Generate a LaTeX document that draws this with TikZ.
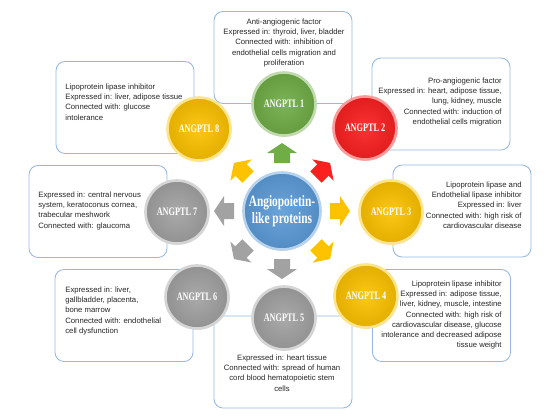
\documentclass[tikz,border=0pt]{standalone}
\usepackage{fontspec}
\setmainfont{Liberation Sans}
\newfontfamily\ballfont[FakeStretch=0.72]{Liberation Serif}
\usetikzlibrary{shadows}
\definecolor{grnball}{RGB}{112,173,71}
\definecolor{redball}{RGB}{250,32,32}
\definecolor{ylwball}{RGB}{252,194,0}
\definecolor{gryball}{RGB}{162,162,162}
\definecolor{bluball}{RGB}{92,156,216}
\definecolor{boxline}{RGB}{150,185,225}
\newcommand{\infofont}{\fontsize{4.4pt}{5.7pt}\selectfont}
\newcommand{\angp}[1]{ANGPTL #1}

\begin{document}
\begin{tikzpicture}[x=0.02cm, y=-0.02cm,
		infobox/.style={draw=boxline, fill=white, line width=0.5pt, rounded corners=0.18cm, minimum width=2.76cm, minimum height=1.84cm, inner sep=0pt},
		infotext/.style={font=\infofont, text=black!85, inner sep=0pt},
		ballnode/.style={circle, inner sep=0pt, minimum size=1.26cm, draw=#1!45!white, line width=1.5pt, inner color=#1!92!white, outer color=#1!90!black, text=white, font=\ballfont\fontsize{6.5pt}{7pt}\selectfont\bfseries, drop shadow={opacity=0.25, shadow xshift=0.5pt, shadow yshift=-0.7pt}},
		corenode/.style={ballnode=bluball, minimum size=1.54cm, align=center, font=\ballfont\fontsize{9pt}{9.4pt}\selectfont\bfseries},
		blockarrow/.pic={\fill[#1] (-10,-8) -- (0,-8) -- (0,-15) -- (10,0) -- (0,15) -- (0,8) -- (-10,8) -- cycle;}]

	\useasboundingbox (0,0) rectangle (550,417);

	\node[infobox] (box1) at (283,57.5) {};
	\node[infobox] (box2) at (441,104) {};
	\node[infobox] (box3) at (462,211) {};
	\node[infobox] (box4) at (441.5,315.5) {};
	\node[infobox] (box5) at (283,362) {};
	\node[infobox] (box6) at (124,315.5) {};
	\node[infobox] (box7) at (98,211.5) {};
	\node[infobox] (box8) at (125,107.5) {};

	\node[infotext, align=center, anchor=north] (txt1) at (284,19) {Anti-angiogenic factor\\Expressed in: thyroid, liver, bladder\\Connected with: inhibition of\\endothelial cells migration and\\proliferation};
	\node[infotext, align=right, anchor=north east] (txt2) at (502,78) {Pro-angiogenic factor\\Expressed in: heart, adipose tissue,\\lung, kidney, muscle\\Connected with: induction of\\endothelial cells migration};
	\node[infotext, align=right, anchor=north east] (txt3) at (522,182) {Lipoprotein lipase and\\Endothelial lipase inhibitor\\Expressed in: liver\\Connected with: high risk of\\cardiovascular disease};
	\node[infotext, align=right, anchor=north east] (txt4) at (502,281) {Lipoprotein lipase inhibitor\\Expressed in: adipose tissue,\\liver, kidney, muscle, intestine\\Connected with: high risk of\\cardiovascular disease, glucose\\intolerance and decreased adipose\\tissue weight};
	\node[infotext, align=center, anchor=north] (txt5) at (282,355) {Expressed in: heart tissue\\Connected with: spread of human\\cord blood hematopoietic stem\\cells};
	\node[infotext, align=left, anchor=north west] (txt6) at (65,287) {Expressed in: liver,\\gallbladder, placenta,\\bone marrow\\Connected with: endothelial\\cell dysfunction};
	\node[infotext, align=left, anchor=north west] (txt7) at (38,192) {Expressed in: central nervous\\system, keratoconus cornea,\\trabecular meshwork\\Connected with: glaucoma};
	\node[infotext, align=left, anchor=north west] (txt8) at (65,84) {Lipoprotein lipase inhibitor\\Expressed in: liver, adipose tissue\\Connected with: glucose\\intolerance};

	\pic[rotate=90] at (282,153) {blockarrow=grnball};
	\pic[rotate=45] at (323,170) {blockarrow=redball};
	\pic at (340,211) {blockarrow=ylwball};
	\pic[rotate=-45] at (323,252) {blockarrow=ylwball};
	\pic[rotate=-90] at (282,269) {blockarrow=gryball};
	\pic[rotate=-135] at (241,252) {blockarrow=gryball};
	\pic[rotate=180] at (224,211) {blockarrow=gryball};
	\pic[rotate=135] at (241,170) {blockarrow=ylwball};

	\node[ballnode=grnball] (ang1) at (284,104) {\angp{1}};
	\node[ballnode=redball] (ang2) at (365,128) {\angp{2}};
	\node[ballnode=ylwball] (ang3) at (391,212) {\angp{3}};
	\node[ballnode=ylwball] (ang4) at (366,296) {\angp{4}};
	\node[ballnode=gryball] (ang5) at (284,318) {\angp{5}};
	\node[ballnode=gryball] (ang6) at (197,297) {\angp{6}};
	\node[ballnode=gryball] (ang7) at (177,212) {\angp{7}};
	\node[ballnode=ylwball] (ang8) at (199,129) {\angp{8}};

	\node[corenode] (core) at (282,211) {Angiopoietin-\\like proteins};

\end{tikzpicture}
\end{document}
